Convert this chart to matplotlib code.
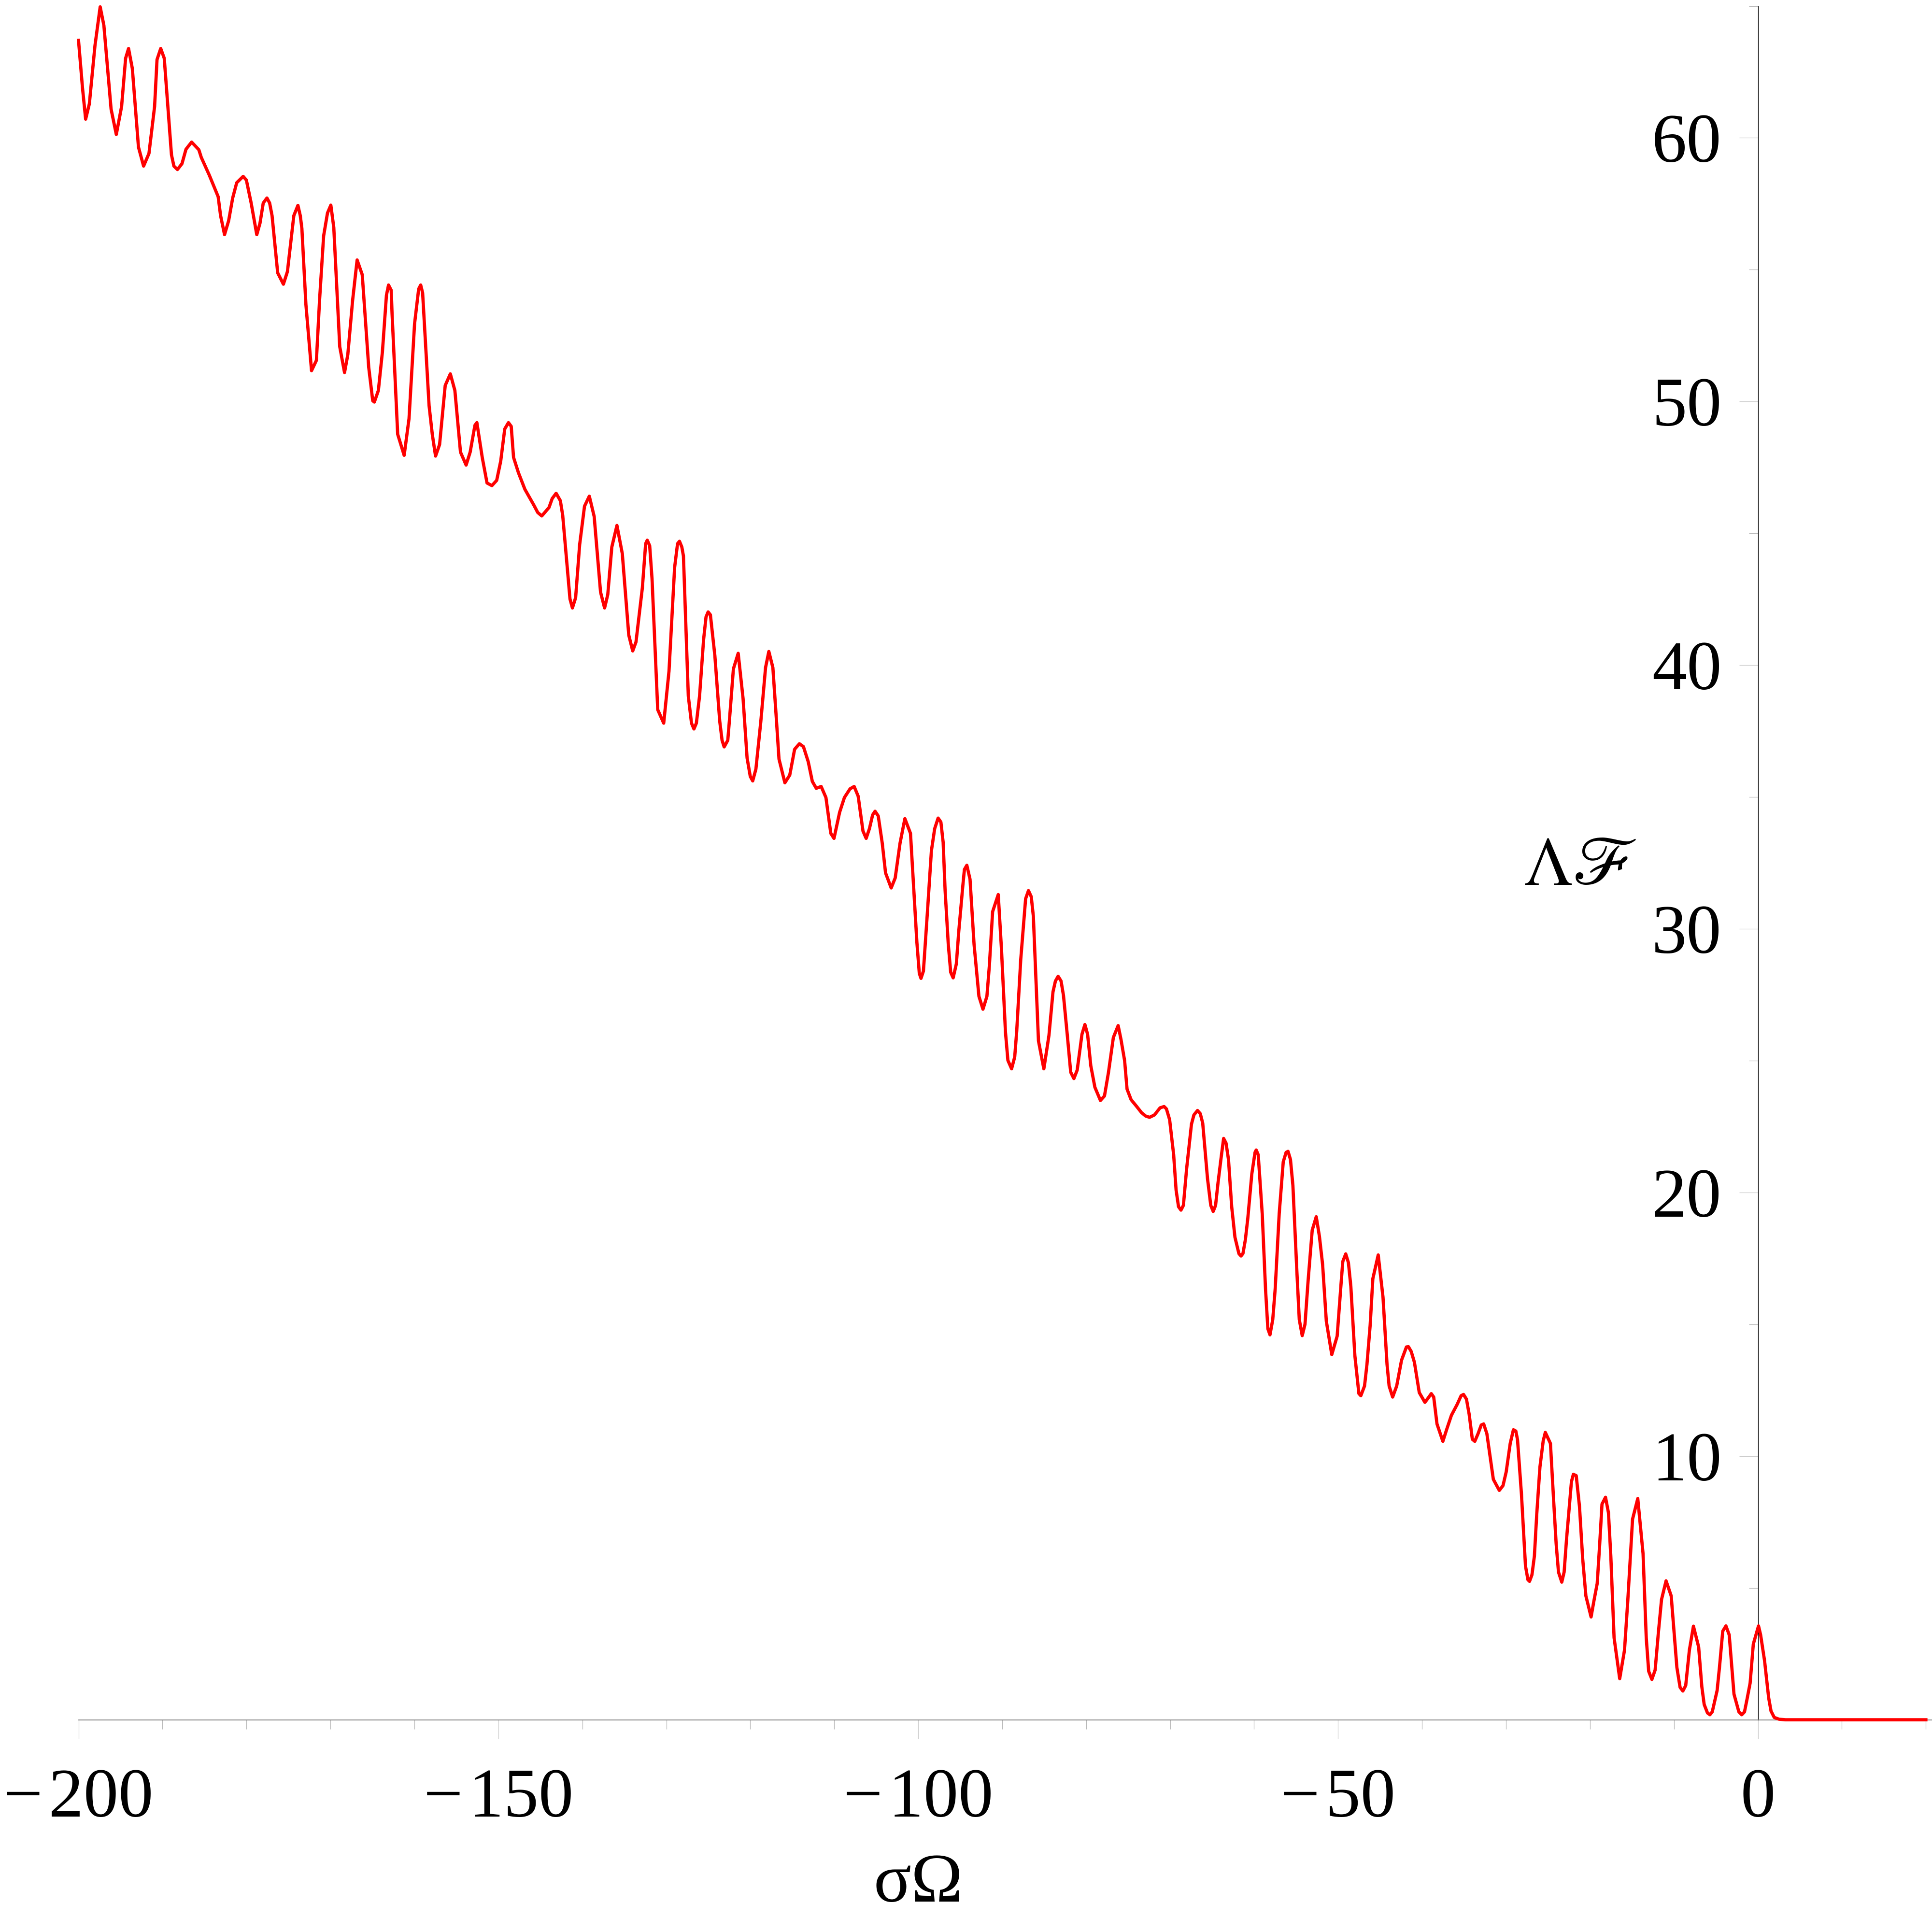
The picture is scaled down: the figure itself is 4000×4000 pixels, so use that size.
import numpy as np
import matplotlib
matplotlib.use("Agg")
import matplotlib.pyplot as plt
from matplotlib.ticker import FixedLocator, FixedFormatter, NullFormatter

plt.rcParams['font.family'] = ['Liberation Serif', 'DejaVu Serif']
plt.rcParams['mathtext.fontset'] = 'stix'

# curve (sigma*Omega, Lambda*F)
sig_omega = [
    -200.00, -199.53, -199.15, -198.71, -198.04, -197.42, -196.98, -196.12, -195.50, -194.87,
    -194.39, -194.04, -193.59, -192.86, -192.25, -191.61, -190.94, -190.65, -190.21, -189.79,
    -188.93, -188.64, -188.22, -187.68, -187.20, -186.53, -185.67, -185.38, -184.43, -183.37,
    -183.08, -182.61, -182.12, -181.64, -181.16, -180.39, -180.01, -179.44, -178.77, -178.39,
    -178.00, -177.56, -177.24, -176.95, -176.28, -175.60, -175.12, -174.36, -173.87, -173.59,
    -173.40, -172.92, -172.25, -171.67, -171.29, -170.81, -170.35, -169.95, -169.60,
    -168.89, -168.32, -167.93, -167.36, -166.82, -166.21, -165.44, -164.96, -164.77, -164.29,
    -163.81, -163.33, -163.08, -162.76, -162.66, -161.99, -161.22, -160.64, -159.98, -159.49,
    -159.25, -159.02, -158.25, -157.87, -157.48, -157.00, -156.33, -155.72, -155.18, -154.51,
    -153.84, -153.36, -152.79, -152.56, -151.92, -151.35, -150.77, -150.20, -149.72, -149.24,
    -148.80, -148.47, -148.19, -147.61, -146.84, -145.79, -145.31, -144.83, -143.97, -143.59,
    -143.12,
    -142.62, -142.34, -141.47, -141.18, -140.80, -140.32, -139.74, -139.17, -138.59, -137.83,
    -137.35, -136.97, -136.49, -135.88, -135.24, -134.47, -134.00, -133.61, -132.85, -132.46,
    -132.27, -131.98, -131.70, -131.02, -130.31, -129.68, -129.01, -128.66, -128.43, -128.15,
    -127.96, -127.38, -127.00, -126.71, -126.42, -126.04, -125.56, -125.27, -125.02, -124.75,
    -124.22, -123.64, -123.36, -123.11, -122.68, -122.49, -122.01, -121.44, -120.86, -120.38,
    -120.00, -119.71,
    -119.33, -118.75, -118.18, -117.79, -117.31, -116.93, -116.58, -115.88, -115.30, -114.72,
    -114.15, -113.67, -113.10, -112.61, -112.14, -111.56, -110.99, -110.41, -110.03, -109.36,
    -108.79, -108.12, -107.63, -107.15, -106.58, -106.20, -105.81, -105.43, -105.14, -104.76,
    -104.28, -103.89, -103.22, -102.74, -102.17, -101.59, -100.92, -100.54, -100.16, -99.87,
    -99.67, -99.38, -98.91, -98.43, -98.04, -97.63, -97.30,
    -97.03, -96.80, -96.42, -96.13, -95.84, -95.46, -95.17, -94.69, -94.50, -94.21,
    -93.83, -93.35, -92.77, -92.29, -91.82, -91.53, -91.14, -90.47, -90.09, -89.61,
    -89.32, -88.88, -88.51, -88.27, -87.79, -87.21, -86.87, -86.54, -86.29, -85.68,
    -85.04, -84.43, -83.95, -83.66, -83.34, -82.99, -82.70, -82.22, -81.84, -81.46,
    -81.07, -80.79, -80.50, -80.15, -79.83, -79.45, -78.96, -78.30, -77.82, -77.34,
    -76.76, -76.19, -75.85, -75.42, -75.13,
    -74.65, -73.98, -73.41, -72.92, -72.45, -71.87, -71.20, -70.72, -70.44, -70.06,
    -69.58, -69.29, -69.00, -68.71, -68.42, -68.04, -67.46, -67.17, -66.74, -66.41,
    -66.12, -65.55, -65.16, -64.87, -64.59, -64.30, -63.92, -63.63, -63.34, -63.05,
    -62.67, -62.28, -61.81, -61.56, -61.33, -61.04, -60.75, -60.27, -59.89, -59.75,
    -59.51, -59.03, -58.64, -58.36, -58.11, -57.78, -57.49, -57.01, -56.53, -56.19,
    -55.96, -55.67, -55.38, -54.90, -54.62, -54.27, -53.94, -53.56, -53.08, -52.60,
    -52.22, -51.84, -51.40, -50.75, -50.11, -49.63, -49.44, -49.09, -48.77, -48.48,
    -48.00, -47.52, -47.29, -46.85, -46.56, -46.18, -45.86, -45.22, -44.65, -44.17,
    -43.92, -43.50, -43.02, -42.44, -41.86, -41.62, -41.29, -40.91, -40.33, -39.66,
    -39.28, -38.90, -38.61, -38.22, -37.52, -37.07, -36.50, -35.82, -35.35, -35.06,
    -34.71, -34.39, -34.01, -33.72, -33.33, -32.95, -32.66, -32.28, -31.51, -30.80,
    -30.36, -29.98, -29.50, -29.12, -28.83, -28.63, -28.16, -27.68, -27.39, -27.20,
    -26.91, -26.62, -26.34, -25.96, -25.57, -25.32, -24.71, -24.32, -24.03, -23.75,
    -23.36, -23.08, -22.79, -22.21, -21.98, -21.64, -21.25, -20.87, -20.49, -19.87,
    -19.53, -19.14, -18.86, -18.57, -18.15, -17.80, -17.52, -17.13, -16.46, -15.89,
    -15.50, -14.93, -14.31, -13.68, -13.30, -13.01, -12.63, -12.24, -11.86, -11.48,
    -10.94, -10.33, -9.65, -9.27, -8.94, -8.60, -8.16, -7.68,
    -7.06, -6.68, -6.40, -6.01, -5.72, -5.44, -4.86, -4.57, -4.19, -3.81,
    -3.42, -2.85, -2.27, -1.93, -1.60, -1.31, -0.93, -0.55, 0.07, 0.32,
    0.79, 1.28, 1.56, 1.94, 2.52, 3.29, 20.00,
]
lambda_f = [
    63.70, 61.91, 60.71, 61.29, 63.50, 64.97, 64.27, 61.09, 60.13, 61.19,
    63.02, 63.39, 62.63, 59.65, 58.93, 59.41, 61.19, 62.97, 63.39, 63.02,
    59.36, 58.93, 58.80, 59.02, 59.57, 59.84, 59.55, 59.26, 58.59, 57.77,
    57.05, 56.33, 56.86, 57.72, 58.30, 58.54, 58.40, 57.53, 56.33, 56.76,
    57.53, 57.72, 57.53, 57.05, 54.88, 54.45, 54.93, 57.05, 57.44, 57.05,
    56.57, 53.68, 51.17, 51.56, 53.87, 56.28, 57.15, 57.45, 56.60,
    52.08, 51.10, 51.78, 53.83, 55.37, 54.81, 51.30, 50.03, 49.98, 50.42,
    51.88, 54.03, 54.42, 54.22, 53.34, 48.76, 47.96, 49.35, 52.95, 54.27,
    54.42, 54.12, 49.84, 48.76, 47.93, 48.37, 50.61, 51.05, 50.42, 48.08,
    47.59, 48.08, 49.10, 49.20, 47.88, 46.91, 46.81, 47.01, 47.74, 48.96,
    49.20, 49.06, 47.88, 47.30, 46.67, 46.08, 45.79, 45.66, 45.98, 46.32,
    46.52,
    46.24, 45.69, 42.51, 42.17, 42.56, 44.57, 46.03, 46.41, 45.64, 42.77,
    42.17, 42.68, 44.48, 45.30, 44.23, 41.14, 40.54, 40.88, 42.94, 44.61,
    44.74, 44.53, 43.28, 38.31, 37.80, 39.77, 43.71, 44.61, 44.70, 44.48,
    44.14, 38.83, 37.80, 37.58, 37.80, 38.83, 40.97, 41.83, 42.02, 41.91,
    40.37, 37.88, 37.15, 36.90, 37.15, 37.88, 39.86, 40.45, 38.74, 36.48,
    35.78, 35.61,
    36.06, 37.85, 39.91, 40.52, 39.91, 38.13, 36.44, 35.54, 35.83, 36.81,
    37.02, 36.91, 36.34, 35.59, 35.33, 35.40, 34.98, 33.62, 33.43, 34.42,
    34.98, 35.31, 35.40, 35.03, 33.71, 33.43, 33.80, 34.32, 34.46, 34.28,
    33.24, 32.12, 31.55, 31.93, 33.24, 34.18, 33.62, 31.55, 29.49, 28.31,
    28.12, 28.40, 30.61, 32.96, 33.80, 34.20, 34.05,
    33.28, 31.47, 29.41, 28.35, 28.14, 28.67, 29.91, 31.63, 32.25, 32.41,
    31.88, 29.41, 27.44, 26.95, 27.44, 28.59, 30.65, 31.30, 29.25, 26.08,
    25.01, 24.69, 25.14, 26.12, 28.84, 31.14, 31.45, 31.22, 30.48, 25.75,
    24.69, 25.96, 27.61, 28.02, 28.20, 28.02, 27.47, 25.88, 24.56, 24.32,
    24.64, 25.30, 26.00, 26.37, 26.00, 24.81, 23.99, 23.49, 23.66, 24.56,
    25.88, 26.33, 25.80, 25.00, 23.92,
    23.52, 23.26, 23.03, 22.90, 22.85, 22.94, 23.21, 23.26, 23.17, 22.76,
    21.43, 20.09, 19.46, 19.33, 19.51, 20.89, 22.59, 22.94, 23.11, 22.99,
    22.63, 20.53, 19.51, 19.28, 19.51, 20.36, 21.34, 22.05, 21.87, 21.25,
    19.46, 18.30, 17.68, 17.59, 17.68, 18.21, 19.02, 20.71, 21.52, 21.61,
    21.43, 19.18, 16.34, 14.83, 14.60, 15.18, 16.34, 19.20, 21.16, 21.52,
    21.56, 21.25, 20.27, 16.96, 15.18, 14.57, 15.00, 16.69, 18.57, 19.08,
    18.33, 17.26, 15.12, 13.85, 14.55, 16.60, 17.38, 17.67, 17.34, 16.44,
    13.81, 12.37, 12.29, 12.66, 13.48, 14.96, 16.73, 17.63, 16.03, 13.48,
    12.66, 12.24, 12.66, 13.64, 14.14, 14.15, 13.97, 13.56, 12.41, 12.04,
    12.20, 12.37, 12.24, 11.22, 10.56, 11.01, 11.55, 11.96, 12.29, 12.34,
    12.16, 11.59, 10.64, 10.56, 10.85, 11.18, 11.22, 10.85, 9.12, 8.70,
    8.88, 9.40, 10.48, 11.00, 10.95, 10.62, 8.55, 5.83, 5.31, 5.25,
    5.50, 6.21, 7.80, 9.59, 10.58, 10.90, 10.48, 8.27, 6.68, 5.60,
    5.22, 5.60, 6.86, 9.03, 9.31, 9.26, 8.09, 6.11, 4.70, 3.90,
    4.51, 5.17, 6.58, 8.18, 8.44, 7.85, 6.21, 3.11, 1.56, 2.64,
    4.51, 7.61, 8.39, 6.30, 3.11, 1.84, 1.53, 1.89, 3.29, 4.56,
    5.27, 4.70, 1.98, 1.23, 1.09, 1.30, 2.65, 3.55,
    2.76, 1.25, 0.58, 0.26, 0.19, 0.30, 1.11, 2.02, 3.36, 3.56,
    3.22, 0.97, 0.30, 0.19, 0.30, 0.76, 1.39, 2.87, 3.56, 3.22,
    2.24, 0.83, 0.33, 0.09, 0.02, 0.00, 0.00,
]

x_major = [-200, -150, -100, -50, 0]
x_labels = ['\u2212\u200a200', '\u2212\u200a150', '\u2212\u200a100', '\u2212\u200a50', '0']
x_minor = [-190, -180, -170, -160, -140, -130, -120, -110, -90, -80, -70, -60,
           -40, -30, -20, -10, 10, 20]
y_major = [10, 20, 30, 40, 50, 60]
y_labels = ['10', '20', '30', '40', '50', '60']
y_minor = [5, 15, 25, 35, 45, 55, 65]

fig = plt.figure(figsize=(40, 40), dpi=100)
ax = fig.add_axes([0, 0, 1, 1])

ax.plot(sig_omega, lambda_f, color='#ff0000', lw=4.8,
        solid_joinstyle='round', zorder=3)

ax.set_xlim(-209.35, 20.73)
ax.set_ylim(-8.05, 65.23)

ax.spines['top'].set_visible(False)
ax.spines['right'].set_visible(False)
ax.spines['left'].set_position(('data', 0))
ax.spines['left'].set_bounds(0, 65)
ax.spines['left'].set_color('black')
ax.spines['left'].set_linewidth(0.9)
ax.spines['bottom'].set_position(('data', 0))
ax.spines['bottom'].set_bounds(-200, 20.73)
ax.spines['bottom'].set_color('#808080')
ax.spines['bottom'].set_linewidth(1.3)

ax.xaxis.set_major_locator(FixedLocator(x_major))
ax.xaxis.set_major_formatter(FixedFormatter(x_labels))
ax.xaxis.set_minor_locator(FixedLocator(x_minor))
ax.xaxis.set_minor_formatter(NullFormatter())
ax.yaxis.set_major_locator(FixedLocator(y_major))
ax.yaxis.set_major_formatter(FixedFormatter(y_labels))
ax.yaxis.set_minor_locator(FixedLocator(y_minor))
ax.yaxis.set_minor_formatter(NullFormatter())

ax.tick_params(which='major', direction='out', length=28, width=0.9,
               color='#cccccc', labelsize=104, labelcolor='black')
ax.tick_params(axis='x', which='major', pad=44)
ax.tick_params(axis='y', which='major', pad=26)
ax.tick_params(which='minor', direction='out', length=14, width=0.9,
               color='#b8b8b8')

ax.text(-100.0, -6.27, 'σΩ', fontsize=104, ha='center', va='center')
ax.text(-21.2, 32.3, r'$\Lambda\mathscr{F}$', fontsize=104,
        ha='center', va='center')

fig.savefig('out.png', dpi=100, facecolor='white')
